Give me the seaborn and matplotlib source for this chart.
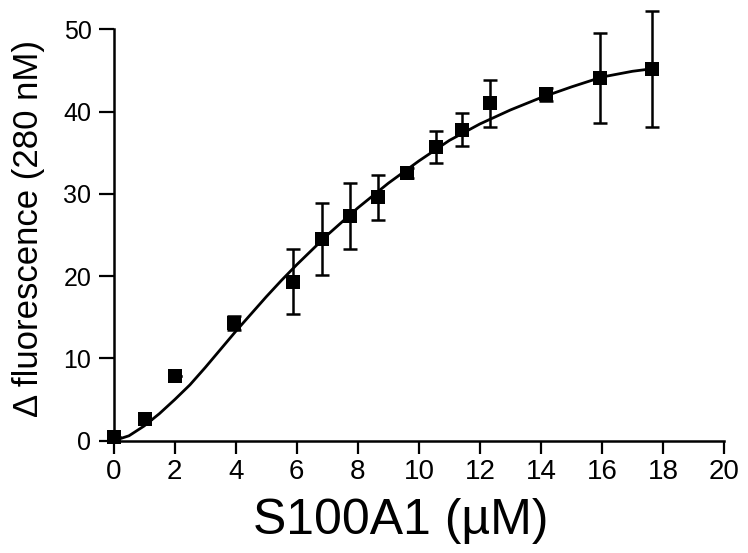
import matplotlib
matplotlib.use("Agg")
import matplotlib.pyplot as plt
import seaborn as sns
import pandas as pd

# measured points (mean +/- error)
conc = [0, 1.02, 2.0, 3.95, 5.88, 6.81, 7.74, 8.67, 9.6, 10.55, 11.42, 12.33, 14.15, 15.93, 17.63]
dfluo = [0.5, 2.7, 7.9, 14.3, 19.3, 24.5, 27.3, 29.6, 32.5, 35.7, 37.8, 41.0, 42.1, 44.1, 45.2]
err = [0, 0, 0, 0.9, 3.95, 4.35, 4.05, 2.75, 0.6, 2.0, 2.0, 2.85, 0.8, 5.45, 7.05]

# fitted curve
fit_x = [0, 0.5, 1, 1.5, 2, 2.5, 3, 3.5, 4, 4.5, 5, 5.5, 6, 7, 8, 9, 10, 11, 12, 13, 14, 15, 16, 17, 17.63]
fit_y = [0, 0.6, 1.8, 3.3, 5.0, 6.8, 8.9, 11.1, 13.3, 15.4, 17.5, 19.5, 21.4, 25.0, 28.3,
         31.3, 34.0, 36.5, 38.5, 40.2, 41.7, 43.0, 44.2, 44.9, 45.2]

xticks = list(range(0, 21, 2))
yticks = [0, 10, 20, 30, 40, 50]

df = pd.DataFrame({"conc": conc, "dfluo": dfluo, "err": err})
fit = pd.DataFrame({"x": fit_x, "y": fit_y})

sns.set_theme(style="ticks")
plt.rcParams['font.family'] = ['Liberation Sans', 'DejaVu Sans']

fig = plt.figure(figsize=(7.48, 5.53), dpi=100)
ax = fig.add_axes([0.152, 0.203, 0.816, 0.744])

sns.lineplot(data=fit, x="x", y="y", color="black", linewidth=2.0, ax=ax, clip_on=False)
ax.errorbar(df["conc"], df["dfluo"], yerr=df["err"], fmt="none", ecolor="black",
            elinewidth=1.8, capsize=4.8, capthick=1.8, clip_on=False, zorder=3)
sns.scatterplot(data=df, x="conc", y="dfluo", marker="s", s=100, color="black",
                edgecolor="black", linewidth=0, ax=ax, clip_on=False, zorder=4)

ax.set_xlim(0, 20)
ax.set_ylim(0, 50)
ax.set_xticks(xticks)
ax.set_yticks(yticks)
sns.despine(ax=ax)
for side in ["left", "bottom"]:
    ax.spines[side].set_linewidth(1.8)
    ax.spines[side].set_color("black")
ax.tick_params(axis="x", length=9, width=1.6, labelsize=20, pad=4, colors="black")
ax.tick_params(axis="y", length=11, width=1.6, labelsize=18, pad=5, colors="black")

ax.set_xlabel("S100A1 (µM)", fontsize=36, color="black")
ax.xaxis.set_label_coords(0.47, -0.14)
ax.set_ylabel("Δ fluorescence (280 nM)", fontsize=25, color="black")
ax.yaxis.set_label_coords(-0.112, 0.515)

fig.savefig("out.png", dpi=100)
